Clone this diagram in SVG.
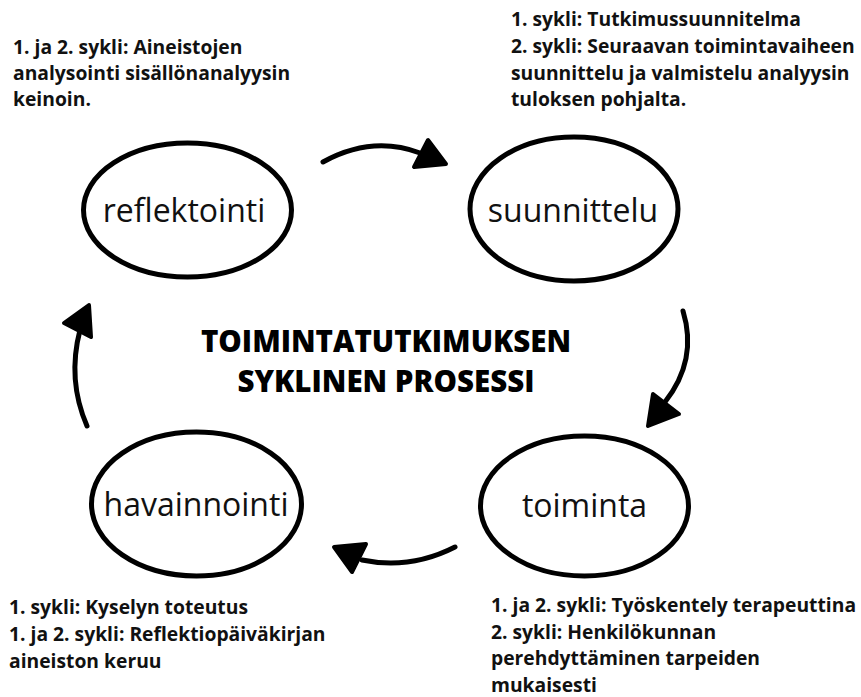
<svg xmlns="http://www.w3.org/2000/svg" width="861" height="697" viewBox="0 0 861 697">
<style>
.note{font-family:"Open Sans","Noto Sans",sans-serif;font-weight:700;font-size:19.3px;fill:#111}
.lbl{font-family:"Open Sans","Noto Sans",sans-serif;font-weight:400;font-size:32px;fill:#111;text-anchor:middle}
.title{font-family:"Open Sans","Noto Sans",sans-serif;font-weight:800;font-size:29.5px;fill:#000;text-anchor:middle}
.node{fill:#fff;stroke:#000;stroke-width:5}
.conn{fill:none;stroke:#000;stroke-width:5;stroke-linecap:round}
.head{fill:#000;stroke:#000;stroke-width:4;stroke-linejoin:round}
</style>
<rect width="861" height="697" fill="#fff"/>
<g id="connectors">
<path class="conn" d="M323,162 Q372,135 420,153"/>
<polygon class="head" points="428,140 414,167 446,164"/>
<path class="conn" d="M683,311 Q698,360 665,402"/>
<polygon class="head" points="653,394 679,414 648,426"/>
<path class="conn" d="M455,547 Q410,570 362,560"/>
<polygon class="head" points="366,544 352,572 334,547"/>
<path class="conn" d="M87,426 Q67,380 80,330"/>
<polygon class="head" points="64,323 91,337 89,305"/>
</g>
<g id="reflektointi">
<ellipse class="node" cx="187.5" cy="210" rx="104" ry="67"/>
<text class="lbl" x="184" y="222">reflektointi</text>
</g>
<g id="suunnittelu">
<ellipse class="node" cx="574" cy="209" rx="104" ry="72"/>
<text class="lbl" x="573" y="222">suunnittelu</text>
</g>
<g id="havainnointi">
<ellipse class="node" cx="196.5" cy="504" rx="105" ry="72"/>
<text class="lbl" x="196" y="516">havainnointi</text>
</g>
<g id="toiminta">
<ellipse class="node" cx="584.5" cy="506" rx="104" ry="70"/>
<text class="lbl" x="584.5" y="517">toiminta</text>
</g>
<g id="title">
<text class="title" x="386" y="352">TOIMINTATUTKIMUKSEN</text>
<text class="title" x="386" y="392">SYKLINEN PROSESSI</text>
</g>
<g id="note-reflektointi">
<text class="note" x="13" y="54">1. ja 2. sykli: Aineistojen</text>
<text class="note" x="13" y="80">analysointi sisällönanalyysin</text>
<text class="note" x="13" y="106">keinoin.</text>
</g>
<g id="note-suunnittelu">
<text class="note" x="511" y="26">1. sykli: Tutkimussuunnitelma</text>
<text class="note" x="511" y="53">2. sykli: Seuraavan toimintavaiheen</text>
<text class="note" x="511" y="80">suunnittelu ja valmistelu analyysin</text>
<text class="note" x="511" y="106">tuloksen pohjalta.</text>
</g>
<g id="note-havainnointi">
<text class="note" x="9" y="614">1. sykli: Kyselyn toteutus</text>
<text class="note" x="9" y="641">1. ja 2. sykli: Reflektiopäiväkirjan</text>
<text class="note" x="9" y="668">aineiston keruu</text>
</g>
<g id="note-toiminta">
<text class="note" x="491" y="612">1. ja 2. sykli: Työskentely terapeuttina</text>
<text class="note" x="491" y="639">2. sykli: Henkilökunnan</text>
<text class="note" x="491" y="665">perehdyttäminen tarpeiden</text>
<text class="note" x="491" y="692">mukaisesti</text>
</g>
</svg>
